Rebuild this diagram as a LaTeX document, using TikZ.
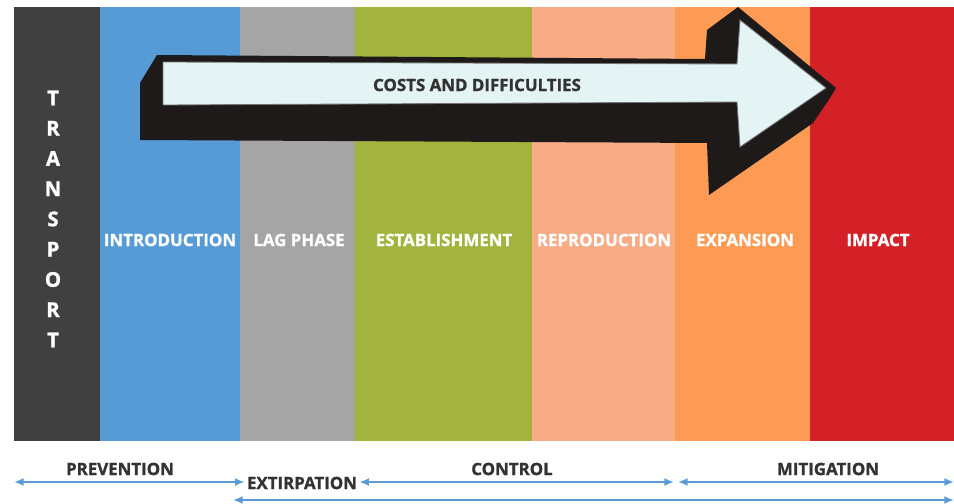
\documentclass[tikz,border=0pt]{standalone}
\usepackage{fontspec}
\setmainfont{Open Sans}[BoldFeatures={FakeBold=1.2}]
\usetikzlibrary{arrows.meta}

\definecolor{colTransport}{HTML}{404040}
\definecolor{colIntro}{HTML}{569BD6}
\definecolor{colLag}{HTML}{A5A5A5}
\definecolor{colEstab}{HTML}{A2B43D}
\definecolor{colRepro}{HTML}{F7AC85}
\definecolor{colExpan}{HTML}{FD9B55}
\definecolor{colImpact}{HTML}{D42127}
\definecolor{spanblue}{HTML}{5B9BD5}
\definecolor{arrowface}{HTML}{E4F4F4}
\definecolor{arrowblack}{HTML}{1E1A1A}
\definecolor{textgray}{HTML}{333333}

\tikzset{
  stage/.style={text=white,font=\bfseries\fontsize{12}{14}\selectfont},
  phase/.style={text=textgray,font=\bfseries\fontsize{12}{14}\selectfont},
  span/.style={<->,>={Latex[length=2.4mm,width=2mm]},line width=1.3pt,draw=spanblue}
}

\begin{document}
\begin{tikzpicture}[x=0.025cm,y=-0.025cm]
  \useasboundingbox (0,0) rectangle (954,504);
  % stage bars
  \foreach \l/\r/\c in {14/100/colTransport,100/240/colIntro,240/355/colLag,355/532/colEstab,532/675/colRepro,675/810/colExpan,810/954/colImpact}
    \fill [\c] (\l,7) rectangle (\r,441);

  % block arrow: dark body, then the light front face
  \fill [arrowblack] (157,55) -- (705,59) -- (707,30) -- (738,7) -- (836,88) -- (830,98)
    -- (813,123) -- (709,195) -- (707,143) -- (140,140) -- (140,83) -- cycle;
  \filldraw [fill=arrowface,draw=black!55,line width=0.6pt] (163,62) -- (737,64) -- (740,20)
    -- (826,88) -- (740,147) -- (737,102) -- (163,105) -- cycle;
  \node [phase] (costs) at (477,85) {COSTS AND DIFFICULTIES};

  % vertical word in the first bar
  \foreach \ch [count=\i] in {T,R,A,N,S,P,O,R,T}
    \node [stage,font=\bfseries\fontsize{14.5}{16}\selectfont] (t\i) at (53,{98+30.25*(\i-1)}) {\ch};

  % stage names
  \node [stage] (intro) at (170,240) {INTRODUCTION};
  \node [stage] (lag) at (299,240) {LAG PHASE};
  \node [stage] (estab) at (444,240) {ESTABLISHMENT};
  \node [stage] (repro) at (604,240) {REPRODUCTION};
  \node [stage] (expan) at (745,240) {EXPANSION};
  \node [stage] (impact) at (878,240) {IMPACT};

  % management phases
  \node [phase] (prevention) at (120,469) {PREVENTION};
  \node [phase,inner sep=1.5pt] (extirpation) at (302,483) {EXTIRPATION};
  \node [phase] (control) at (512,469) {CONTROL};
  \node [phase] (mitigation) at (828,469) {MITIGATION};

  \coordinate (prevL) at (14,482);
  \coordinate (ctrlR) at (674,482);
  \coordinate (mitL) at (678,482);
  \coordinate (mitR) at (954,482);
  \coordinate (allL) at (233,500);
  \coordinate (allR) at (954,500);
  \draw [span] (prevL) -- (extirpation.west |- prevL);
  \draw [span] (extirpation.east |- ctrlR) -- (ctrlR);
  \draw [span] (mitL) -- (mitR);
  \draw [span] (allL) -- (allR);
\end{tikzpicture}
\end{document}
